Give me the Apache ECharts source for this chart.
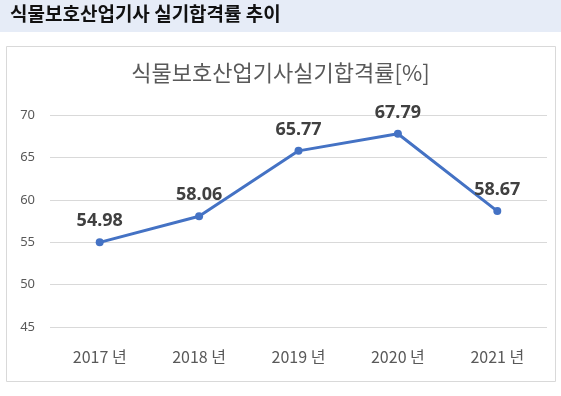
<!DOCTYPE html>
<html>
<head>
<meta charset="utf-8">
<title>식물보호산업기사 실기합격률 추이</title>
<style>
    html,body{margin:0;padding:0;background:#fff;}
    #chart{width:561px;height:396px;}
</style>
</head>
<body>
<div id="chart"></div>
<script src="https://cdn.jsdelivr.net/npm/echarts@6/dist/echarts.min.js"></script>
<script>
    var years = ['2017 년', '2018 년', '2019 년', '2020 년', '2021 년'];
    var passRate = [54.98, 58.06, 65.77, 67.79, 58.67];
    var yTicks = [45, 50, 55, 60, 65, 70];

    var chart = echarts.init(document.getElementById('chart'));
    chart.setOption({
        animation: false,
        graphic: [
            // 상단 제목 띠
            {type: 'rect', left: 0, top: 0, z: -1, shape: {width: 561, height: 32}, style: {fill: '#e6ecf7'}},
            {type: 'text', left: 10, top: 4, style: {text: '식물보호산업기사 실기합격률 추이', fill: '#111', font: 'bold 19px "Noto Sans CJK KR"'}},
            // 차트 테두리
            {type: 'rect', left: 6, top: 46, z: -1, shape: {width: 549, height: 335}, style: {fill: '#fff', stroke: '#d9d9d9', lineWidth: 1}}
        ],
        title: {
            text: '식물보호산업기사실기합격률[%]',
            left: 'center',
            top: 57,
            textStyle: {fontFamily: 'Noto Sans CJK KR', fontSize: 22, fontWeight: 'normal', color: '#595959'}
        },
        grid: {left: 50, right: 14, top: 115, bottom: 69},
        xAxis: {
            type: 'category',
            data: years,
            axisLine: {show: false},
            axisTick: {show: false},
            axisLabel: {color: '#595959', fontSize: 16, fontFamily: 'Noto Sans CJK KR', margin: 22}
        },
        yAxis: {
            type: 'value',
            min: yTicks[0],
            max: yTicks[yTicks.length - 1],
            interval: 5,
            axisLine: {show: false},
            axisTick: {show: false},
            axisLabel: {color: '#595959', fontSize: 13, fontFamily: 'Noto Sans', margin: 15},
            splitLine: {lineStyle: {color: '#d9d9d9'}}
        },
        series: [{
            type: 'line',
            data: passRate,
            symbol: 'circle',
            symbolSize: 8,
            lineStyle: {color: '#4472c4', width: 3},
            itemStyle: {color: '#4472c4'},
            label: {
                show: true,
                position: 'top',
                distance: 8,
                color: '#404040',
                fontSize: 18,
                fontWeight: 'bold',
                fontFamily: 'Noto Sans'
            }
        }]
    });
</script>
</body>
</html>
